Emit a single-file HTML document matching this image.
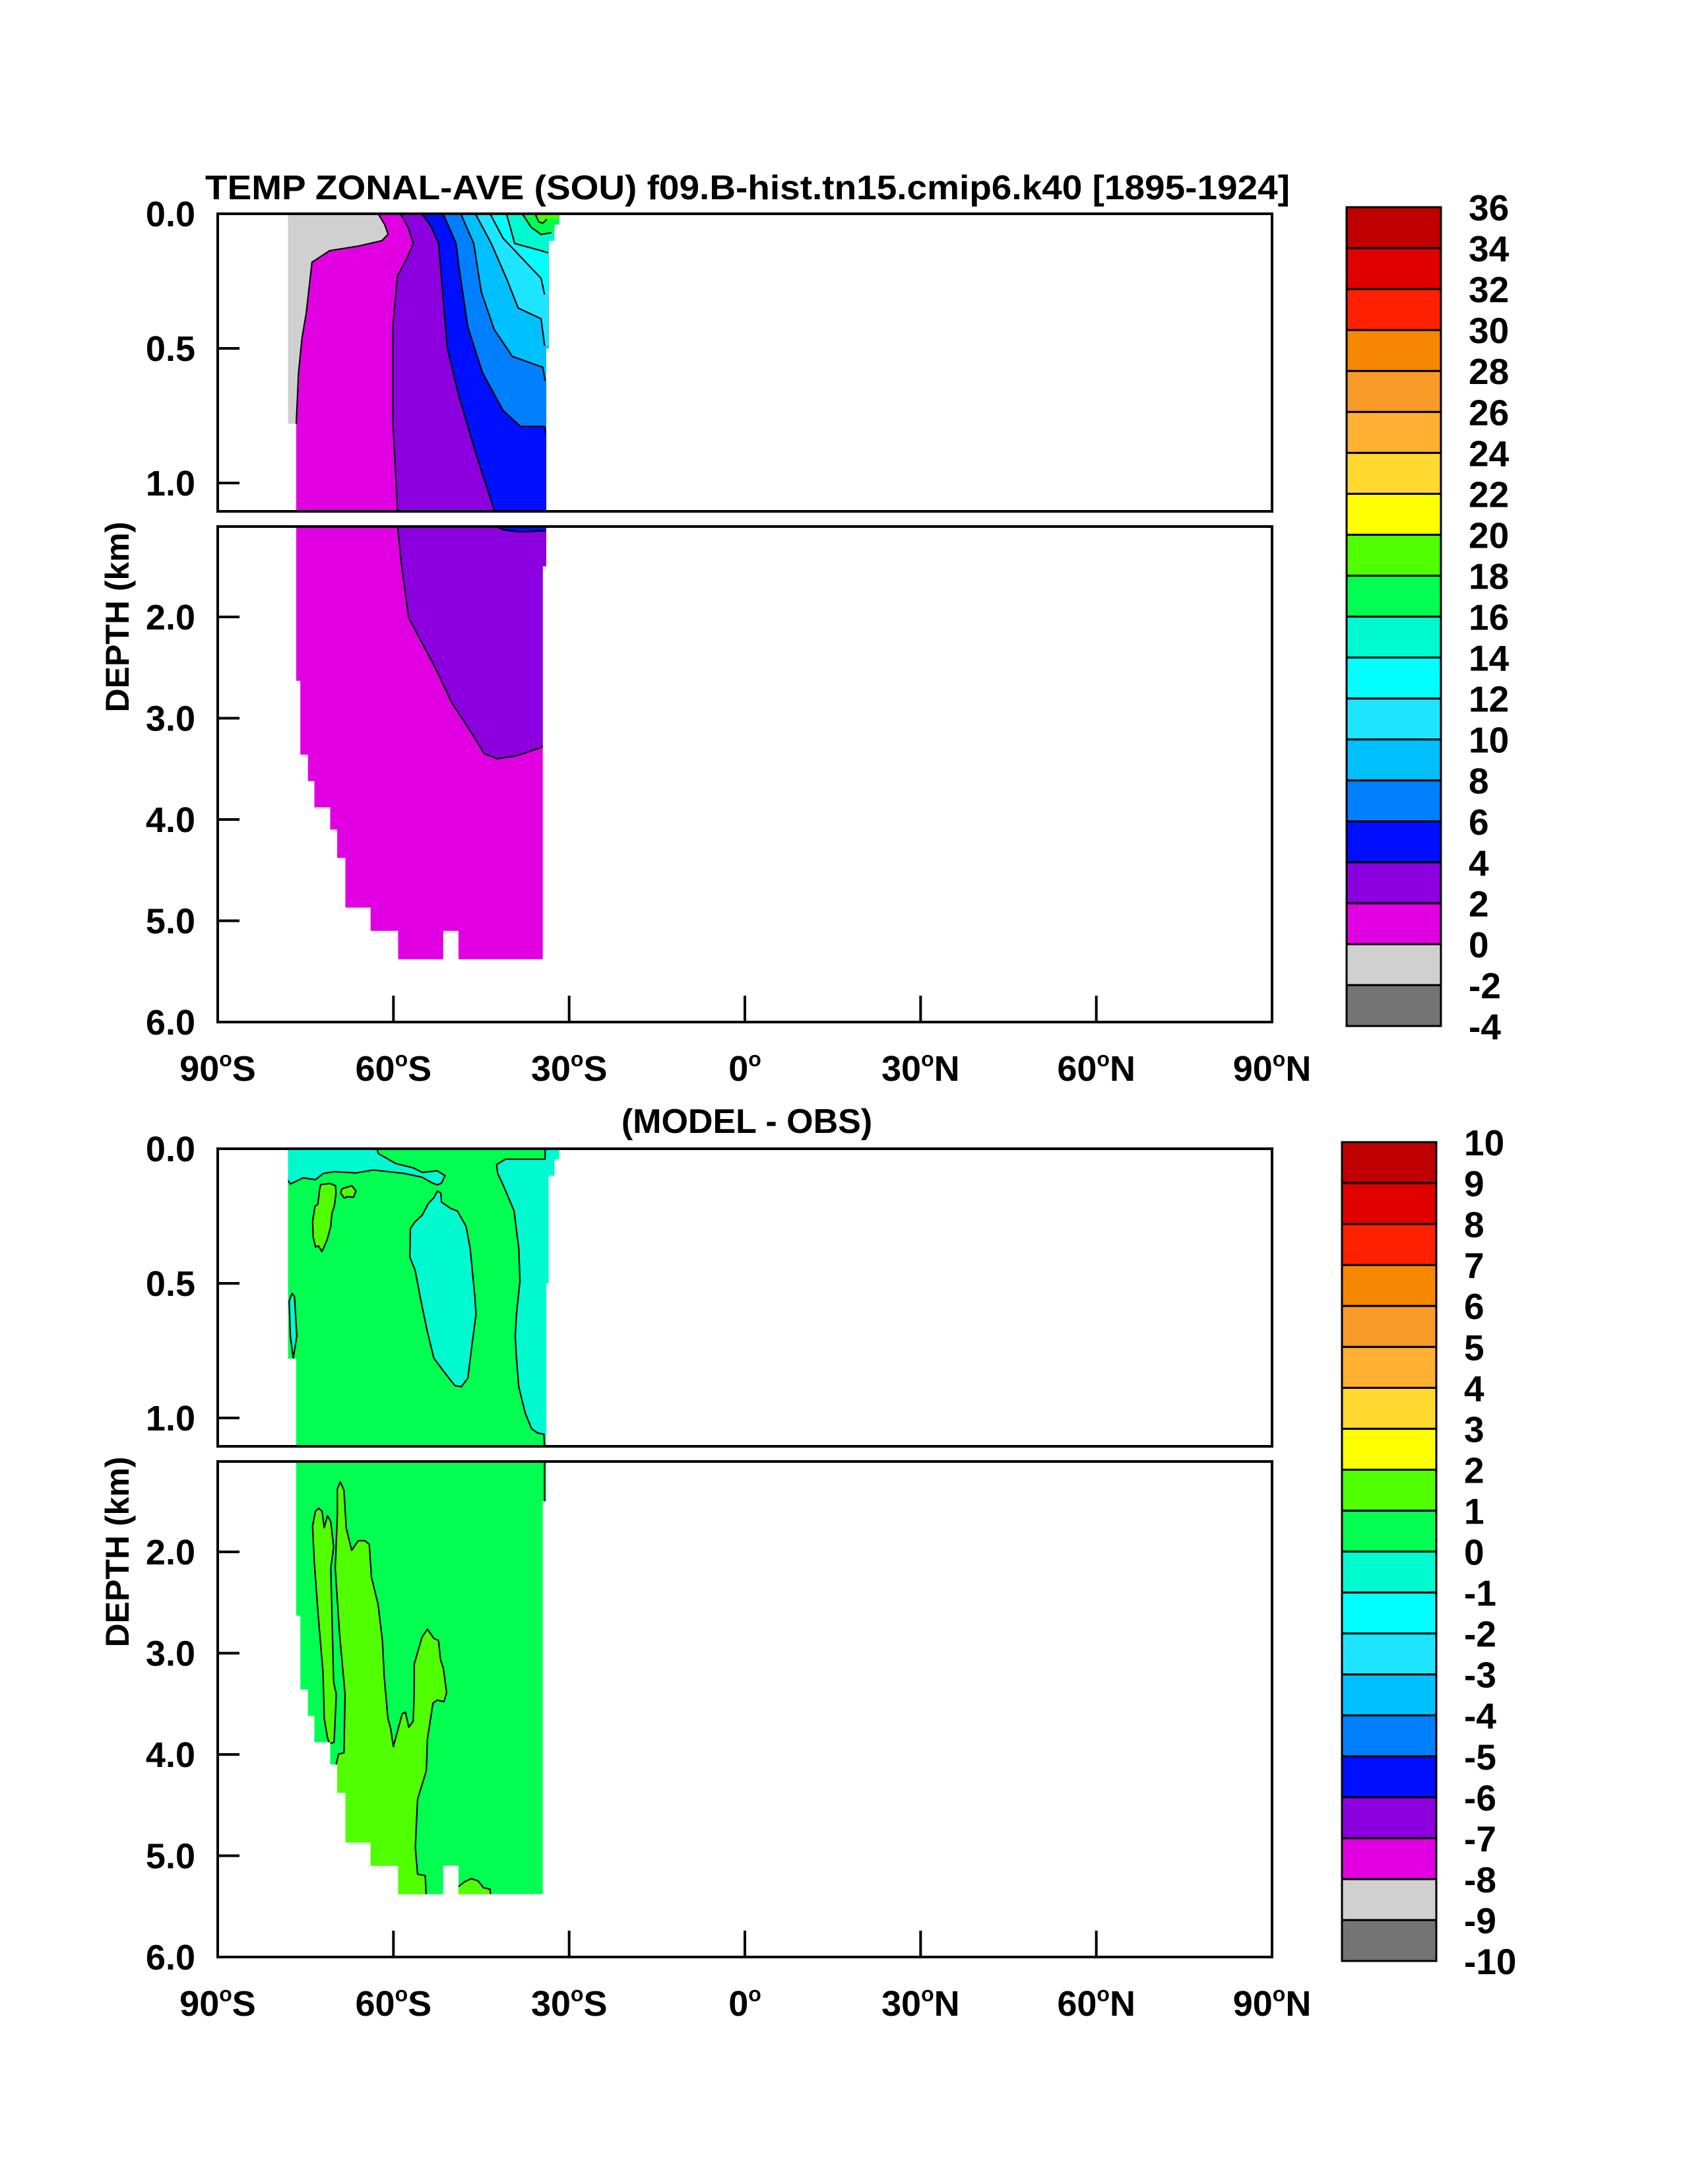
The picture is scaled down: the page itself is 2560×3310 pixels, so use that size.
<!DOCTYPE html>
<html><head><meta charset="utf-8"><style>
html,body{margin:0;padding:0;background:#fff;width:2560px;height:3310px;overflow:hidden;}
svg{display:block;font-family:"Liberation Sans",Arial,sans-serif;font-weight:bold;}
</style></head><body>
<svg id="chart" xmlns="http://www.w3.org/2000/svg" width="2560" height="3310" viewBox="0 0 2560 3310">
<rect x="0" y="0" width="2560" height="3310" fill="#fff"/>
<text x="311" y="302" font-size="52" textLength="1644" lengthAdjust="spacingAndGlyphs">TEMP ZONAL-AVE (SOU) f09.B-hist.tn15.cmip6.k40 [1895-1924]</text>
<text x="1132" y="1717" font-size="52" text-anchor="middle">(MODEL - OBS)</text>
<text transform="translate(195,935) rotate(-90)" font-size="50" text-anchor="middle">DEPTH (km)</text>
<text transform="translate(195,2352) rotate(-90)" font-size="50" text-anchor="middle">DEPTH (km)</text>
<defs id="defs"></defs>
</svg>
<script>
// ---------- data ----------
const latTicks = [-90,-60,-30,0,30,60,90];
const latTickLabels = ['90','60','30','0','30','60','90'];
const latTickHemi = ['S','S','S','','N','N','N'];
const upperDepthTicks = [0.0,0.5,1.0];
const lowerDepthTicks = [2.0,3.0,4.0,5.0,6.0];
const tempLevels = [-4,-2,0,2,4,6,8,10,12,14,16,18,20,22,24,26,28,30,32,34,36];
const diffLevels = [-10,-9,-8,-7,-6,-5,-4,-3,-2,-1,0,1,2,3,4,5,6,7,8,9,10];
const bandColors = ['#747474','#d0d0d0','#e100e1','#8c00e0','#0010ff','#0080ff','#00c0ff','#1ee5ff','#00ffff','#00fad0','#00ff50','#50ff00','#ffff00','#ffd830','#ffb030','#fa9a28','#f58800','#ff2000','#e00000','#c00000'];

// ocean mask (lat, depth km)
const oceanMask = [[-78,0],[-31.7,0],[-31.7,0.04],[-32.5,0.04],[-32.5,0.1],[-33.5,0.1],[-33.5,0.5],[-33.9,0.5],[-33.9,1.5],[-34.5,1.5],[-34.5,5.38],[-48.9,5.38],[-48.9,5.10],[-51.5,5.10],[-51.5,5.38],[-59.2,5.38],[-59.2,5.10],[-63.9,5.10],[-63.9,4.87],[-68.2,4.87],[-68.2,4.38],[-69.6,4.38],[-69.6,4.10],[-70.8,4.10],[-70.8,3.88],[-73.5,3.88],[-73.5,3.62],[-74.6,3.62],[-74.6,3.36],[-75.9,3.36],[-75.9,2.63],[-76.6,2.63],[-76.6,0.78],[-78,0.78]];

// isotherms (lat, depth)
const iso0 = [[-62.6,0],[-61.5,0.04],[-60.9,0.076],[-62,0.10],[-66,0.12],[-70.9,0.137],[-73.9,0.18],[-74.9,0.37],[-75.6,0.46],[-76.2,0.59],[-76.6,0.78]];
const iso2 = [[-58.8,0],[-57.5,0.05],[-56.6,0.11],[-57.8,0.17],[-59.3,0.23],[-60.1,0.42],[-60.1,0.77],[-59.3,1.1],[-58.6,1.5],[-57.4,2.01],[-52.8,2.51],[-50.0,2.85],[-46.4,3.17],[-44.5,3.35],[-42.3,3.40],[-38.9,3.37],[-34.8,3.29],[-34.0,3.25]];
const iso4 = [[-55.1,0],[-53.5,0.05],[-52.3,0.11],[-51.8,0.24],[-50.8,0.50],[-48.8,0.68],[-45.8,0.90],[-42.8,1.10],[-41.2,1.14],[-38.7,1.16],[-36,1.155],[-34,1.15]];
const iso6 = [[-51.5,0],[-49.3,0.11],[-48.8,0.2],[-47.3,0.42],[-44.8,0.59],[-41.3,0.73],[-38.3,0.79],[-34.2,0.79],[-33.9,0.82]];
const iso8 = [[-48.5,0],[-46.3,0.11],[-45.0,0.29],[-42.8,0.43],[-39.7,0.53],[-34.5,0.57],[-34.1,0.62]];
const iso10 = [[-46.0,0],[-43.3,0.11],[-40.7,0.24],[-38.7,0.35],[-34.8,0.39],[-34.2,0.49]];
const iso12 = [[-43.5,0],[-41.3,0.09],[-38.7,0.15],[-34.8,0.24],[-34.2,0.30]];
const iso14 = [[-40.7,0],[-39.3,0.11],[-34.8,0.137],[-33.6,0.145]];
const iso16 = [[-38.0,0],[-36.5,0.05],[-34.8,0.077],[-33.0,0.07]];
const iso18 = [[-35.8,0],[-35.2,0.03],[-34.5,0.035],[-33.8,0.02]];
const tempIsoValues = [0,2,4,6,8,10,12,14,16,18];

// difference contours (lat, depth)
const diffTopCyan = [[-62.8,0],[-62.6,0.018],[-59.6,0.055],[-56.6,0.071],[-55.1,0.088],[-52.5,0.082],[-51.2,0.10],[-51.8,0.128],[-52.5,0.134],[-53.3,0.128],[-55.1,0.106],[-58.1,0.092],[-63.4,0.079],[-66.4,0.09],[-70.1,0.085],[-72.0,0.092],[-73.3,0.115],[-75.4,0.108],[-77.6,0.131],[-78.2,0.112]];
const diffMidCyan = [[-52.5,0.157],[-51.9,0.165],[-51.8,0.198],[-50.2,0.222],[-49.1,0.231],[-47.6,0.288],[-46.9,0.37],[-46.1,0.549],[-45.9,0.615],[-46.5,0.713],[-47.3,0.852],[-48.4,0.884],[-49.5,0.88],[-51.0,0.839],[-53.1,0.778],[-54.2,0.68],[-55.3,0.566],[-56.3,0.451],[-57.2,0.402],[-57.1,0.296],[-56.3,0.271],[-55.1,0.247],[-54.0,0.202],[-53.1,0.182]];
const diffSliverCyan = [[-77.3,0.537],[-76.9,0.549],[-76.5,0.696],[-77.1,0.778],[-77.6,0.696],[-77.8,0.566]];
const diffEastCyan = [[-34.1,0],[-34.1,0.039],[-35.3,0.039],[-40.9,0.039],[-42.4,0.059],[-42.2,0.092],[-41.3,0.133],[-39.4,0.231],[-38.6,0.37],[-38.4,0.492],[-39.0,0.615],[-39.2,0.696],[-39.0,0.778],[-38.6,0.884],[-37.5,0.982],[-36.4,1.04],[-35.4,1.056],[-34.3,1.06],[-34.2,1.11],[-34.2,1.6]];
const diffLimeA = [[-72.4,0.133],[-70.9,0.129],[-69.9,0.137],[-69.8,0.165],[-70.1,0.214],[-70.5,0.239],[-70.7,0.288],[-71.3,0.337],[-72.2,0.382],[-72.8,0.361],[-73.3,0.365],[-73.7,0.329],[-73.8,0.271],[-73.4,0.214],[-72.9,0.206],[-72.6,0.149]];
const diffLimeB = [[-68.8,0.149],[-67.1,0.137],[-66.4,0.157],[-66.8,0.18],[-67.9,0.178],[-68.4,0.183],[-69.0,0.165]];
const diffLimeMain = [[-70.69,4.181],[-69.94,4.145],[-69.38,3.997],[-68.44,3.983],[-68.26,3.405],[-69.19,2.813],[-69.94,2.161],[-69.57,1.628],[-69.57,1.377],[-69.08,1.309],[-68.44,1.392],[-68.07,1.762],[-67.13,1.984],[-66.76,1.954],[-66.01,1.889],[-64.88,1.889],[-64.13,1.925],[-63.76,2.25],[-62.63,2.516],[-61.88,2.872],[-61.58,3.227],[-60.95,3.642],[-60.46,3.746],[-60.01,3.923],[-58.51,3.598],[-57.95,3.583],[-57.38,3.731],[-56.63,3.672],[-56.45,3.376],[-56.45,3.109],[-55.13,2.843],[-54.2,2.763],[-53.07,2.857],[-52.32,2.872],[-51.95,3.065],[-51.46,3.153],[-50.93,3.39],[-51.38,3.479],[-52.51,3.464],[-53.26,3.494],[-54.2,3.849],[-54.38,4.16],[-55.88,4.442],[-56.26,4.915],[-55.88,5.182],[-54.57,5.197],[-54.38,5.419],[-54.38,5.7],[-78.4,5.7],[-78.4,4.181]];
const diffLimeFinger = [[-73.81,1.747],[-73.32,1.599],[-72.76,1.569],[-72.19,1.599],[-71.82,1.762],[-71.26,1.643],[-70.69,1.702],[-70.21,1.954],[-70.69,2.161],[-70.21,3.287],[-69.76,3.405],[-70.13,3.879],[-70.88,3.894],[-71.26,3.835],[-71.82,3.642],[-72.01,3.198],[-72.83,2.635],[-73.51,2.102]];
const diffLimeBottom = [[-48.95,5.306],[-47.82,5.256],[-46.7,5.226],[-45.57,5.247],[-44.63,5.315],[-43.51,5.33],[-43.32,5.419],[-43.32,5.6],[-48.95,5.6]];

// ---------- geometry ----------
const NS = 'http://www.w3.org/2000/svg';
const svg = document.getElementById('chart');
const defs = document.getElementById('defs');
const X0 = 330, X1 = 1928;
function xScale(lat){ return X0 + (lat + 90) * (X1 - X0) / 180; }
const panels = [
  {off:0, name:'temp', levels:tempLevels, cbX:2041},
  {off:1417, name:'diff', levels:diffLevels, cbX:2034}
];
const upperTop = 324, upperBot = 775, lowerTop = 798, lowerBot = 1549;
function yUpper(d, off){ return off + upperTop + d * 408; }
function yLower(d, off){ return off + lowerBot - (6 - d) * 153.5; }
function mk(tag, attrs, parent){
  const e = document.createElementNS(NS, tag);
  for (const k in attrs) e.setAttribute(k, attrs[k]);
  (parent || svg).appendChild(e);
  return e;
}
function ptsStr(pts, ys, off){ return pts.map(p => xScale(p[0]).toFixed(1) + ',' + ys(p[1], off).toFixed(1)).join(' '); }
function closeEast(pts){ return pts.concat([[-20, pts[pts.length-1][1]],[-20,-0.2],[pts[0][0],-0.2]]); }
function closeWest(pts){ const l = pts[pts.length-1]; return pts.concat([[-80,l[1]+0.01],[-80,6.5],[-20,6.5],[-20,-0.2],[pts[0][0],-0.2]]); }
function closeWestSurface(pts){ const l = pts[pts.length-1]; return pts.concat([[-80,l[1]],[-80,-0.2],[pts[0][0],-0.2]]); }

let clipId = 0;
function subBox(p, ys, yTop, yBot, label){
  const off = p.off;
  const id1 = 'cb' + (clipId++);
  const cp1 = mk('clipPath', {id:id1}, defs);
  mk('rect', {x:X0, y:off+yTop, width:X1-X0, height:yBot-yTop}, cp1);
  const id2 = 'co' + (clipId++);
  const cp2 = mk('clipPath', {id:id2}, defs);
  mk('polygon', {points:ptsStr(oceanMask, ys, off)}, cp2);
  const g1 = mk('g', {'clip-path':'url(#'+id1+')'});
  
  
  const g = mk('g', {'clip-path':'url(#'+id2+')'}, g1);
  return g;
}
function fillRegion(g, poly, color, ys, off, name){
  const e = mk('polygon', {points:ptsStr(poly, ys, off), fill:color, stroke:'none'}, g);
  
  
}
function lineRegion(g, pts, ys, off, closed, name){
  const e = mk(closed ? 'polygon' : 'polyline', {points:ptsStr(pts, ys, off), fill:'none', stroke:'#000', 'stroke-width':2.2, 'stroke-linejoin':'round'}, g);
  
  
}
function bandColor(levels, v){ return bandColors[levels.indexOf(v)]; }

const tempIsos = [iso0, iso2, iso4, iso6, iso8, iso10, iso12, iso14, iso16, iso18];

[['upper', yUpper, upperTop, upperBot], ['lower', yLower, lowerTop, lowerBot]].forEach(sb => {
  const [label, ys, yT, yB] = sb;
  let p = panels[0];
  let g = subBox(p, ys, yT, yB, label);
  fillRegion(g, oceanMask, bandColor(tempLevels, -2), ys, p.off, 'ocean-base-fill');
  tempIsos.forEach((iso, i) => {
    const v = tempIsoValues[i];
    const poly = (i === 0) ? closeWest(iso) : closeEast(iso);
    fillRegion(g, poly, bandColor(tempLevels, v), ys, p.off, 'band-above-' + v);
  });
  tempIsos.forEach((iso, i) => lineRegion(g, iso, ys, p.off, false, 'isotherm-' + tempIsoValues[i]));
  p = panels[1];
  g = subBox(p, ys, yT, yB, label);
  const green = bandColor(diffLevels, 0), cyan = bandColor(diffLevels, -1), lime = bandColor(diffLevels, 1);
  fillRegion(g, oceanMask, green, ys, p.off, 'diff-base-fill');
  fillRegion(g, closeWestSurface(diffTopCyan), cyan, ys, p.off, 'diff-cyan-surface');
  fillRegion(g, diffMidCyan, cyan, ys, p.off, 'diff-cyan-mid');
  fillRegion(g, diffSliverCyan, cyan, ys, p.off, 'diff-cyan-sliver');
  fillRegion(g, closeEast(diffEastCyan), cyan, ys, p.off, 'diff-cyan-east');
  fillRegion(g, diffLimeA, lime, ys, p.off, 'diff-lime-a');
  fillRegion(g, diffLimeB, lime, ys, p.off, 'diff-lime-b');
  fillRegion(g, diffLimeMain, lime, ys, p.off, 'diff-lime-main');
  fillRegion(g, diffLimeFinger, lime, ys, p.off, 'diff-lime-finger');
  fillRegion(g, diffLimeBottom, lime, ys, p.off, 'diff-lime-bottom');
  lineRegion(g, diffTopCyan, ys, p.off, false, 'diff-contour-surface');
  lineRegion(g, diffMidCyan, ys, p.off, true, 'diff-contour-mid');
  lineRegion(g, diffSliverCyan, ys, p.off, true, 'diff-contour-sliver');
  lineRegion(g, diffEastCyan, ys, p.off, false, 'diff-contour-east');
  lineRegion(g, diffLimeA, ys, p.off, true, 'diff-contour-lime-a');
  lineRegion(g, diffLimeB, ys, p.off, true, 'diff-contour-lime-b');
  lineRegion(g, diffLimeMain.slice(0, diffLimeMain.length - 3), ys, p.off, false, 'diff-contour-lime-main');
  lineRegion(g, diffLimeFinger, ys, p.off, true, 'diff-contour-lime-finger');
  lineRegion(g, diffLimeBottom.slice(0, 7), ys, p.off, false, 'diff-contour-lime-bottom');
});

panels.forEach(p => {
  const off = p.off;
  [[upperTop, upperBot, 'upper'], [lowerTop, lowerBot, 'lower']].forEach(b => {
    const r = mk('rect', {x:X0, y:off+b[0], width:X1-X0, height:b[1]-b[0], fill:'none', stroke:'#000', 'stroke-width':4});
    
    
  });
  upperDepthTicks.forEach(d => {
    const y = yUpper(d, off);
    const t = mk('line', {x1:X0, x2:X0+33, y1:y, y2:y, stroke:'#000', 'stroke-width':4});
    
    
    const tx = mk('text', {x:296, y:y+19, 'font-size':54, 'text-anchor':'end'});
    tx.textContent = d.toFixed(1);
    
    
  });
  lowerDepthTicks.forEach(d => {
    const y = yLower(d, off);
    const t = mk('line', {x1:X0, x2:X0+33, y1:y, y2:y, stroke:'#000', 'stroke-width':4});
    
    
    const tx = mk('text', {x:296, y:y+19, 'font-size':54, 'text-anchor':'end'});
    tx.textContent = d.toFixed(1);
    
    
  });
  latTicks.forEach((lat, i) => {
    const x = xScale(lat);
    if (i > 0 && i < latTicks.length - 1) {
      const t = mk('line', {x1:x, x2:x, y1:off+lowerBot, y2:off+lowerBot-40, stroke:'#000', 'stroke-width':4});
      
      
    }
    const tx = mk('text', {x:x, y:off+1638, 'font-size':54, 'text-anchor':'middle'});
    
    
    const t1 = mk('tspan', {}, tx); t1.textContent = latTickLabels[i];
    const t2 = mk('tspan', {'font-size':32, dy:-22}, tx); t2.textContent = 'o';
    if (latTickHemi[i]) { const t3 = mk('tspan', {dy:22}, tx); t3.textContent = latTickHemi[i]; }
  });
  const cbTop = off + 314, cbH = 62.05, n = bandColors.length;
  bandColors.forEach((c, i) => {
    const r = mk('rect', {x:p.cbX, y:cbTop + (n-1-i)*cbH, width:143, height:cbH, fill:c, stroke:'#000', 'stroke-width':3});
    
    
  });
  p.levels.forEach((v, i) => {
    const tx = mk('text', {x:p.cbX+185, y:cbTop + (n-i)*cbH + 20, 'font-size':55});
    tx.textContent = String(v);
    
    
  });
});
</script>
</body></html>
